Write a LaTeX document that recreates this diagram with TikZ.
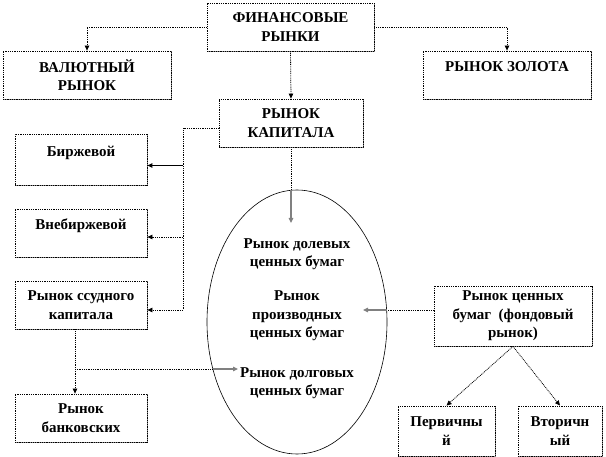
\documentclass[tikz,border=0pt]{standalone}
\usepackage{fontspec}
\setmainfont{Liberation Serif}
\usepackage{tikz}
\usetikzlibrary{arrows.meta,positioning,calc,shapes.geometric,shadows}
\definecolor{shd}{HTML}{8A8A8A}
\definecolor{tipg}{HTML}{808080}
\tikzset{
  >={Triangle[length=5pt,width=4.5pt]},
  box/.style={draw,line width=0.8pt,dash pattern=on 0.9pt off 0.9pt,fill=white,align=center,inner sep=1pt,
    drop shadow={shadow xshift=1.3pt,shadow yshift=-1.3pt,fill=shd,opacity=1}},
  tbox/.style={box,inner ysep=0pt,text height=21pt,text depth=27pt},
  lab/.style={align=center,inner sep=0pt},
  dline/.style={line width=0.8pt,dash pattern=on 0.9pt off 0.9pt},
  arr/.style={dline,->},
  sarr/.style={->,line width=0.9pt},
  garr/.style={->,draw=tipg,line width=1.1pt},
}
\begin{document}
\begin{tikzpicture}[x=1pt,y=-1pt,every node/.style={font=\bfseries\fontsize{15}{18.5}\selectfont}]
\useasboundingbox (0,0) rectangle (606,457);
% top level
\node[box,minimum width=167pt,minimum height=48pt] (fin) at (290.5,27) {ФИНАНСОВЫЕ\\РЫНКИ};
\node[box,minimum width=168pt,minimum height=48pt] (val) at (87,75) {ВАЛЮТНЫЙ\\РЫНОК};
\node[tbox,minimum width=168pt] (gold) at (507,75) {РЫНОК ЗОЛОТА};
\node[box,minimum width=144pt,minimum height=48pt] (kap) at (291,123) {РЫНОК\\КАПИТАЛА};
% left column
\node[tbox,minimum width=132pt,minimum height=51pt] (birzh) at (81,159.5) {Биржевой};
\node[tbox,minimum width=132pt] (vneb) at (81,233) {Внебиржевой};
\node[box,minimum width=132pt,minimum height=48pt] (ssud) at (81,305) {Рынок ссудного\\капитала};
\node[box,minimum width=132pt,minimum height=48pt] (bank) at (81,418) {Рынок\\банковских};
% securities
\node[draw,ellipse,line width=0.6pt,minimum width=180pt,minimum height=264pt,inner sep=0pt] (sec) at (297,322) {};
\node[lab] (dol) at (297,254) {Рынок долевых\\ценных бумаг};
\node[lab] (proizv) at (297,316) {Рынок\\производных\\ценных бумаг};
\node[lab] (dolg) at (297,383) {Рынок долговых\\ценных бумаг};
\node[box,minimum width=158pt,minimum height=60pt] (fond) at (513,316) {Рынок ценных\\бумаг~ (фондовый\\рынок)};
\node[box,minimum width=97pt,minimum height=50pt] (perv) at (446.5,431) {Первичны\\й};
\node[box,minimum width=84pt,minimum height=50pt] (vtor) at (560,431) {Вторичн\\ый};
\coordinate (bus) at (183,128);
\coordinate (tT) at (291,223); \coordinate (tL) at (238,369); \coordinate (tR) at (363,310);
\coordinate (eL) at (213,369); \coordinate (eR) at (387,310);
% connectors
\draw[arr] (fin.west) -| (val.north);
\draw[arr] (fin.east) -| (gold.north);
\draw[arr] (fin.south) -- (kap.north);
\draw[arr] ([yshift=-5pt]kap.west) -- (bus) |- ([yshift=-5pt]ssud.east);
\draw[sarr] ([yshift=-6pt]birzh.east -| bus) -- ([yshift=-6pt]birzh.east);
\draw[arr] ([yshift=-4pt]vneb.east -| bus) -- ([yshift=-4pt]vneb.east);
\draw[arr] ([xshift=-6pt]ssud.south) -- ([xshift=-6pt]bank.north);
\draw[dline] ([xshift=-6pt]ssud.south |- tL) -- (eL); \draw[garr] (eL) -- (tL);
\draw[dline] (kap.south) -- (kap.south |- sec.north); \draw[garr] (kap.south |- sec.north) -- (tT);
\draw[dline] ([yshift=6pt]fond.west) -- (eR); \draw[garr] (eR) -- (tR);
\draw[arr] (fond.south) -- (perv.north);
\draw[arr] (fond.south) -- (vtor.north);
\end{tikzpicture}
\end{document}
